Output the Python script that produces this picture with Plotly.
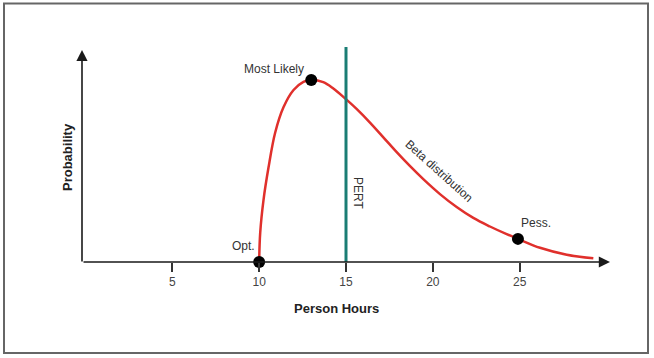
import plotly.graph_objects as go

# Beta distribution curve (relative probability, peak = 1)
hours = [10, 10.06, 10.25, 10.54, 10.92, 11.4, 11.98, 12.55, 13.0, 13.69, 14.27,
         14.98, 15.61, 16.38, 17.15, 17.92, 18.69, 19.45, 20.41, 21.37, 22.33,
         23.29, 24.25, 24.9, 26.17, 27.71, 29.24]
prob = [0, 0.16, 0.34, 0.52, 0.71, 0.85, 0.945, 0.99, 1.0, 0.988, 0.953,
        0.896, 0.841, 0.766, 0.685, 0.603, 0.526, 0.455, 0.373, 0.302, 0.242,
        0.195, 0.153, 0.127, 0.078, 0.04, 0.02]

# Key points: optimistic, most likely, pessimistic
key_x = [10, 13, 24.9]
key_y = [0, 1.0, 0.127]
key_labels = ["Opt.", "Most Likely", "Pess."]

pert_x = 15
tick_vals = [5, 10, 15, 20, 25]

W, H = 654, 358
L, R, T, B = 82, 44, 47, 96
XR = [-0.2, 30.2]
YR = [0, 1.181]
pw, ph = W - L - R, H - T - B

def px_x(p):
    return (p - L) / pw

def px_y(p):
    return (H - B - p) / ph

fig = go.Figure()

fig.add_trace(go.Scatter(x=hours, y=prob, mode="lines",
                         line=dict(color="#e0302c", width=2.5, shape="spline", smoothing=1.0),
                         hoverinfo="skip", showlegend=False))
fig.add_trace(go.Scatter(x=key_x, y=key_y, mode="markers",
                         marker=dict(color="black", size=12),
                         hoverinfo="skip", showlegend=False, cliponaxis=False))

# PERT line
fig.add_shape(type="line", x0=pert_x, x1=pert_x, y0=0, y1=YR[1],
              xref="x", yref="y", line=dict(color="#1a7d74", width=3))

# Border
fig.add_shape(type="rect", xref="paper", yref="paper",
              x0=px_x(4), x1=px_x(648), y0=px_y(353), y1=px_y(3.5),
              line=dict(color="#666666", width=2), fillcolor="rgba(0,0,0,0)")

ann = []
# axis arrows
ann.append(dict(x=30.2, y=0, ax=-0.2, ay=0, xref="x", yref="y", axref="x", ayref="y",
                text="", showarrow=True, arrowhead=2, arrowsize=1.4, arrowwidth=1.6,
                arrowcolor="#1a1a1a", standoff=0))
ann.append(dict(x=-0.2, y=1.165, ax=-0.2, ay=-0.005, xref="x", yref="y", axref="x", ayref="y",
                text="", showarrow=True, arrowhead=2, arrowsize=1.4, arrowwidth=1.6,
                arrowcolor="#1a1a1a", standoff=0))

txt = dict(family="Liberation Sans, Arial, sans-serif", size=12, color="#333333")
ann.append(dict(x=10.85, y=1.06, text=key_labels[1], showarrow=False, font=txt))
ann.append(dict(x=9.07, y=0.088, text=key_labels[0], showarrow=False, font=txt))
ann.append(dict(x=25.94, y=0.214, text=key_labels[2], showarrow=False, font=txt))
ann.append(dict(x=15.69, y=0.379, text="PERT", textangle=90, showarrow=False, font=txt))
ann.append(dict(x=20.36, y=0.5, text="Beta distribution", textangle=42, showarrow=False, font=txt))

bold = dict(family="Liberation Sans, Arial, sans-serif", size=13, color="#222222")
ann.append(dict(x=px_x(336), y=px_y(308), xref="paper", yref="paper",
                xanchor="center", yanchor="middle",
                text="<b>Person Hours</b>", showarrow=False, font=bold))
ann.append(dict(x=px_x(67), y=px_y(157), xref="paper", yref="paper",
                xanchor="center", yanchor="middle",
                text="<b>Probability</b>", textangle=-90, showarrow=False, font=bold))

fig.update_layout(
    width=W, height=H,
    margin=dict(l=L, r=R, t=T, b=B),
    paper_bgcolor="white", plot_bgcolor="white",
    annotations=ann,
    xaxis=dict(range=XR, tickvals=tick_vals, ticks="outside", ticklen=9, tickwidth=1.5,
               tickcolor="#333333", showgrid=False, zeroline=False, showline=False,
               tickfont=dict(family="Liberation Sans, Arial, sans-serif", size=12, color="#444444")),
    yaxis=dict(range=YR, visible=False, showgrid=False, zeroline=False),
)

fig.write_html("out.html", config={"displayModeBar": False},
               post_script="document.body.style.margin='0';")
